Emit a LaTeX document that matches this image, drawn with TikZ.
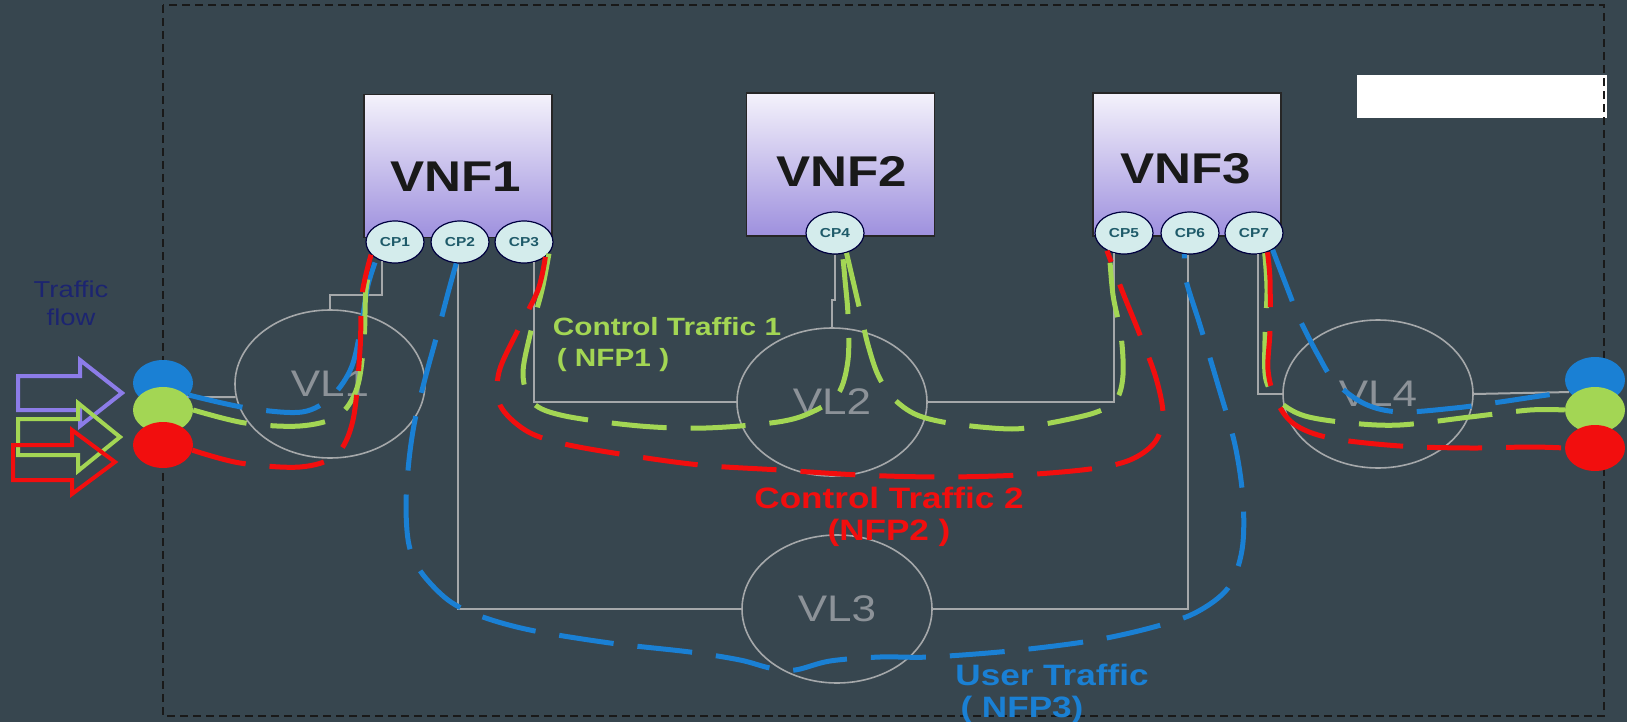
\documentclass[tikz,border=0pt]{standalone}
\usepackage{fontspec}
\setmainfont{Liberation Sans}[FakeStretch=1.19]
\usepackage{tikz}
\usetikzlibrary{calc}
\usetikzlibrary{shapes.geometric}
\definecolor{slate}{RGB}{55,70,79}
\definecolor{linkgray}{RGB}{165,168,170}
\definecolor{vlgray}{RGB}{140,146,152}
\definecolor{nfpred}{RGB}{242,14,14}
\definecolor{nfpgreen}{RGB}{163,214,84}
\definecolor{nfpblue}{RGB}{26,128,212}
\definecolor{navy}{RGB}{28,36,112}
\definecolor{lavtop}{RGB}{244,242,251}
\definecolor{lavbot}{RGB}{158,144,222}
\definecolor{cpfill}{RGB}{212,236,236}
\definecolor{cptext}{RGB}{30,90,105}
\definecolor{arrpurple}{RGB}{140,124,232}
\tikzset{
  vnf/.style={draw=black!85, line width=1.5pt, top color=lavtop, bottom color=lavbot, minimum width=188pt, minimum height=143pt, inner sep=0pt},
  vnftext/.style={font=\bfseries\fontsize{43}{43}\selectfont, text=black!90},
  cp/.style={ellipse, draw=black!75!blue, line width=1.2pt, fill=cpfill, minimum width=58pt, minimum height=42pt, inner sep=0pt, font=\bfseries\fontsize{13}{13}\selectfont, text=cptext},
  vl/.style={ellipse, draw=linkgray, line width=1.6pt, minimum width=190pt, minimum height=148pt, text=vlgray, font=\fontsize{37}{37}\selectfont},
  ball/.style={ellipse, minimum width=60pt, minimum height=46pt, inner sep=0pt},
  link/.style={linkgray, line width=2pt},
  flow/.style={line width=5pt, dash pattern=on 55pt off 24pt},
  bigarrow/.style={line width=4pt, line join=miter},
  nfplabel/.style={font=\bfseries\fontsize{29.5}{29.5}\selectfont}
}
\newcommand{\cpport}[3]{\node[cp] (#1) at (#2) {#3};}
\newcommand{\vlink}[3]{\node[vl] (#1) at (#2) {#3};}
\newcommand{\flowball}[3]{\node[ball, fill=#3] (#1) at (#2) {};}

\begin{document}
\begin{tikzpicture}[x=1pt, y=-1pt]
  \useasboundingbox (0,0) rectangle (1627,722);
  \fill[slate] (0,0) rectangle (1627,722);
  \node[fill=white, minimum width=250pt, minimum height=43pt, inner sep=0pt] (blank) at (1482,96.5) {};
  \draw[black!90, line width=1.6pt, dash pattern=on 8pt off 5pt] (163,5) rectangle (1604,716);

  % vnfs
  \node[vnf] (VNF1) at (458,166) {};
  \node[vnf] (VNF2) at (840.5,164.5) {};
  \node[vnf] (VNF3) at (1187,164.5) {};
  \node[vnftext] (t1) at (456,177) {VNF1};
  \node[vnftext] (t2) at (842,171) {VNF2};
  \node[vnftext] (t3) at (1186,169) {VNF3};

  % ports
  \cpport{CP1}{395,242}{CP1}
  \cpport{CP2}{460,242}{CP2}
  \cpport{CP3}{524,242}{CP3}
  \cpport{CP4}{835,233}{CP4}
  \cpport{CP5}{1124,233}{CP5}
  \cpport{CP6}{1190,233}{CP6}
  \cpport{CP7}{1254,233}{CP7}

  % virtual links
  \vlink{VL1}{330,384}{VL1}
  \vlink{VL2}{832,402}{VL2}
  \vlink{VL3}{837,609}{VL3}
  \vlink{VL4}{1378,394}{VL4}

  % end points
  \flowball{LB}{163,383}{nfpblue}
  \flowball{LG}{163,410}{nfpgreen}
  \flowball{LR}{163,445}{nfpred}
  \flowball{RB}{1595,380}{nfpblue}
  \flowball{RG}{1595,410}{nfpgreen}
  \flowball{RR}{1595,448}{nfpred}

  % links
  \draw[link] (CP1.235) -- ++(0,34) -| (VL1.north);
  \draw[link] (LB.330) -- (VL1.188);
  \draw[link] (CP2.265) |- (VL3.west);
  \draw[link] (CP6.265) |- (VL3.east);
  \draw[link] (CP3.295) |- (VL2.west);
  \draw[link] (CP5.245) |- (VL2.east);
  \draw[link] (CP4.south) -- ++(0,45) -| (VL2.north);
  \draw[link] (CP7.280) |- (VL4.west);
  \draw[link] (VL4.east) -- (RB.205);

  % user traffic
  \draw[flow, nfpblue] plot[smooth, tension=0.55] coordinates {(LB.335) (247,408) (302,412) (332,396) (352,366) (362,320) (368,285) (CP1.222)};
  \draw[flow, nfpblue] plot[smooth, tension=0.55] coordinates {(CP2.260) (448,293) (437,335) (426,375) (415,420) (409,460) (406,505) (409,545) (421,572) (448,600) (480,616) (530,630) (610,643) (690,652) (740,660) (770,668) (795,670) (830,661) (880,657) (930,657) (1010,651) (1090,641) (1150,628) (1195,613) (1228,588) (1242,550) (1243,500) (1235,445) (1218,385) (1200,325) (1186,280) (CP6.255)};
  \draw[flow, nfpblue] plot[smooth, tension=0.55] coordinates {(CP7.318) (1288,290) (1300,320) (1318,355) (1335,382) (1365,404) (1400,412) (1455,408) (1500,402) (1540,396) (RB.205)};

  % control traffic 1
  \draw[flow, nfpgreen] plot[smooth, tension=0.55] coordinates {(LG.east) (245,423) (300,426) (338,416) (357,388) (364,340) (366,290) (CP1.214)};
  \draw[flow, nfpgreen] plot[smooth, tension=0.55] coordinates {(CP3.335) (542,290) (530,335) (523,375) (533,403) (565,416) (640,426) (706,428) (778,422) (812,412) (838,394) (848,360) (848,315) (845,280) (CP4.290)};
  \draw[flow, nfpgreen] plot[smooth, tension=0.55] coordinates {(CP4.300) (854,285) (861,315) (868,345) (878,375) (893,398) (917,415) (955,424) (1012,429) (1045,424) (1094,413) (1116,400) (1123,375) (1121,335) (1113,295) (CP5.232)};
  \draw[flow, nfpgreen] plot[smooth, tension=0.55] coordinates {(CP7.298) (1267,290) (1265,340) (1266,380) (1280,402) (1305,416) (1350,423) (1400,425) (1470,417) (1530,410) (RG.west)};

  % control traffic 2
  \draw[flow, nfpred] plot[smooth, tension=0.55] coordinates {(LR.350) (240,463) (300,467) (336,455) (353,420) (360,350) (362,295) (CP1.208)};
  \draw[flow, nfpred] plot[smooth, tension=0.55] coordinates {(CP3.325) (538,290) (518,330) (499,372) (500,405) (525,430) (560,443) (620,454) (700,465) (780,470) (860,475) (940,477) (1020,475) (1090,469) (1130,460) (1155,442) (1163,415) (1156,378) (1140,335) (1123,293) (CP5.226)};
  \draw[flow, nfpred] plot[smooth, tension=0.55] coordinates {(CP7.305) (1270,280) (1270,330) (1268,370) (1276,400) (1294,424) (1330,438) (1400,446) (1470,448) (1530,447) (RR.west)};

  % labels
  \node[font=\fontsize{23}{28}\selectfont, text=navy, align=center] (flowtxt) at (71,303) {Traffic\\flow};
  \node[nfplabel, text=nfpgreen, font=\bfseries\fontsize{25}{25}\selectfont] (nfp1) at (667,327) {Control Traffic 1};
  \node[nfplabel, text=nfpgreen, font=\bfseries\fontsize{25}{25}\selectfont] (nfp1b) at (613,360) {( NFP1 )};
  \node[nfplabel, text=nfpred] (nfp2) at (889,498) {Control Traffic 2};
  \node[nfplabel, text=nfpred] (nfp2b) at (889,533) {(NFP2 )};
  \node[nfplabel, text=nfpblue] (nfp3) at (1052,675) {User Traffic};
  \node[nfplabel, text=nfpblue] (nfp3b) at (1022,710) {( NFP3)};

  % traffic arrows
  \draw[bigarrow, arrpurple] (18,376) -- (80,376) -- (80,360) -- (122,393) -- (80,426) -- (80,410) -- (18,410) -- cycle;
  \draw[bigarrow, nfpgreen] (18,419) -- (78,419) -- (78,403) -- (120,437) -- (78,471) -- (78,455) -- (18,455) -- cycle;
  \draw[bigarrow, nfpred] (13,445) -- (72,445) -- (72,430) -- (115,462) -- (72,494) -- (72,480) -- (13,480) -- cycle;
\end{tikzpicture}
\end{document}
